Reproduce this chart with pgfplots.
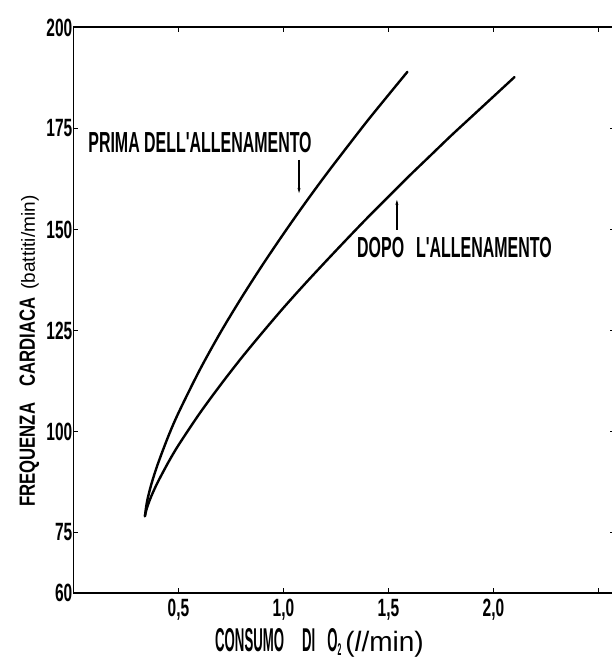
\documentclass[border=0pt]{standalone}
\usepackage{fontspec}
\usepackage{pgfplots}
\pgfplotsset{compat=1.18}
\usetikzlibrary{arrows.meta}
\setmainfont{Liberation Sans}
\newfontfamily\ftick{Liberation Sans}[FakeStretch=0.62]
\newfontfamily\fann{Liberation Sans}[FakeStretch=0.55]
\newfontfamily\fxl{Liberation Sans}[FakeStretch=0.40]
\newfontfamily\fyl{Liberation Sans}[FakeStretch=0.76]

% Frequenza cardiaca vs consumo di O2, prima e dopo l'allenamento
\pgfplotstableread{
x y
0.34 79.0
0.35 82.6
0.37 86.8
0.40 91.7
0.45 98.6
0.50 104.6
0.60 115.1
0.70 124.5
0.80 133.1
0.90 141.2
1.00 148.9
1.10 156.3
1.20 163.4
1.30 170.2
1.40 176.9
1.50 183.3
1.59 189.0
}\prima
\pgfplotstableread{
x y
0.34 79.0
0.35 81.1
0.37 83.9
0.40 87.3
0.45 92.2
0.50 96.6
0.60 104.4
0.70 111.5
0.80 118.2
0.90 124.5
1.00 130.6
1.10 136.4
1.20 142.0
1.30 147.5
1.40 152.9
1.50 158.1
1.60 163.3
1.70 168.3
1.80 173.3
1.90 178.1
2.00 182.9
2.10 187.7
}\dopo

\begin{document}
\begin{tikzpicture}
\useasboundingbox (-73.5pt,-66pt) rectangle (538.5pt,593pt);
\begin{axis}[
  at={(0,0)},anchor=south west,
  scale only axis,width=541.8pt,height=565.6pt,
  xmin=0,xmax=2.58,ymin=60,ymax=200,
  xtick={0.5,1,1.5,2,2.5},
  xticklabels={{0,5},{1,0},{1,5},{2,0},{}},
  ytick={60,75,100,125,150,175,200},
  tick align=inside,major tick length=5pt,
  axis line style={line width=1.8pt},
  tick style={line width=1.4pt,black},
  /pgf/number format/assume math mode=true,
  tick label style={font=\ftick\bfseries\fontsize{25}{25}\selectfont},
  yticklabel style={inner sep=1pt},
  xticklabel style={yshift=-3pt},
  clip=false]
  \addplot[line width=2.4pt,smooth,line cap=round,line join=round] table {\prima};
  \addplot[line width=2.4pt,smooth,line cap=round,line join=round] table {\dopo};
  \node[anchor=west,inner sep=0pt,font=\fann\bfseries\fontsize{29}{29}\selectfont]
    at (axis cs:0.07,171.6) {PRIMA DELL'ALLENAMENTO};
  \draw[line width=1.2pt,-{Stealth[length=5pt,width=3pt]}] (axis cs:1.074,167.2) -- (axis cs:1.074,159);
  \node[anchor=west,inner sep=0pt,font=\fann\bfseries\fontsize{29}{29}\selectfont]
    at (axis cs:1.35,145.4) {DOPO\hspace{12pt}L'ALLENAMENTO};
  \draw[line width=1.2pt,-{Stealth[length=5pt,width=3pt]}] (axis cs:1.54,149.9) -- (axis cs:1.54,157.3);
\end{axis}
\node[anchor=base west,inner sep=0pt] at (141.5pt,-58pt)
  {\fxl\bfseries\fontsize{33}{33}\selectfont CONSUMO\hspace{18pt}DI\hspace{12pt}O\raisebox{-4pt}{\fontsize{17}{17}\selectfont 2}\hspace{4pt}{\rmfamily\mdseries\fontsize{28}{28}\selectfont(\textit{l}/min)}};
\node[anchor=base west,inner sep=0pt,rotate=90] at (-38.5pt,86pt)
  {\fyl\bfseries\fontsize{22}{22}\selectfont FREQUENZA\hspace{16pt}CARDIACA\hspace{8pt}{\rmfamily\mdseries\fontsize{19}{19}\selectfont(battiti/min)}};
\end{tikzpicture}
\end{document}
